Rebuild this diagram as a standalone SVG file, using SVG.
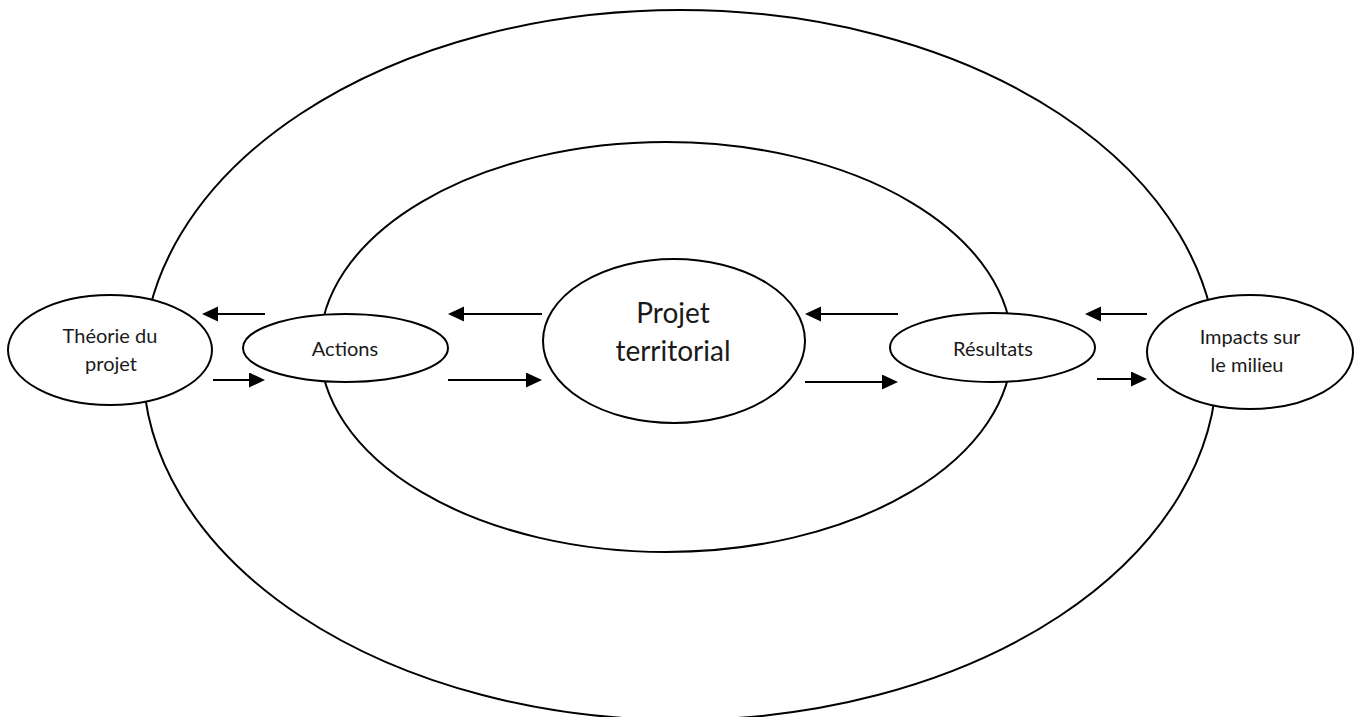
<svg xmlns="http://www.w3.org/2000/svg" width="1362" height="717" viewBox="0 0 1362 717">
<style>
.ring{fill:none;stroke:#000;stroke-width:2}
.node{fill:#fff;stroke:#000;stroke-width:2}
.t{font-family:Lato,"Liberation Sans",sans-serif;font-size:20px;fill:#1a1a1a;text-anchor:middle}
.tb{font-family:Lato,"Liberation Sans",sans-serif;font-size:28px;fill:#1a1a1a;text-anchor:middle}
.c{stroke:#000;stroke-width:2.2;fill:none;marker-end:url(#ah)}
</style>
<defs>
<marker id="ah" markerUnits="userSpaceOnUse" markerWidth="17" markerHeight="16" refX="7" refY="7.5" orient="auto">
<path d="M0,0 L16,7.5 L0,15 z" fill="#000"/>
</marker>
</defs>
<rect width="1362" height="717" fill="#fff"/>
<g id="outer-ring"><ellipse class="ring" cx="680" cy="365" rx="537" ry="355"/></g>
<g id="inner-ring"><ellipse class="ring" cx="666" cy="347" rx="346" ry="205"/></g>
<g id="connectors">
<line class="c" x1="265" y1="314" x2="211" y2="314"/>
<line class="c" x1="213" y1="380" x2="256" y2="380"/>
<line class="c" x1="542" y1="314" x2="457" y2="314"/>
<line class="c" x1="448" y1="380" x2="533" y2="380"/>
<line class="c" x1="898" y1="314" x2="814" y2="314"/>
<line class="c" x1="805" y1="382" x2="889" y2="382"/>
<line class="c" x1="1147" y1="314" x2="1094" y2="314"/>
<line class="c" x1="1097" y1="379" x2="1138" y2="379"/>
</g>
<g id="theorie">
<ellipse class="node" cx="110" cy="350" rx="102" ry="55"/>
<text class="t" x="110" y="343">Théorie du</text>
<text class="t" x="111" y="371">projet</text>
</g>
<g id="actions">
<ellipse class="node" cx="345.5" cy="348" rx="102.5" ry="34"/>
<text class="t" x="345" y="356">Actions</text>
</g>
<g id="projet">
<ellipse class="node" cx="674" cy="341" rx="131" ry="82"/>
<text class="tb" x="673" y="323">Projet</text>
<text class="tb" x="673" y="361">territorial</text>
</g>
<g id="resultats">
<ellipse class="node" cx="992.5" cy="347.5" rx="102.5" ry="34.5"/>
<text class="t" x="993" y="356">Résultats</text>
</g>
<g id="impacts">
<ellipse class="node" cx="1250" cy="352" rx="103" ry="57"/>
<text class="t" x="1250" y="344">Impacts sur</text>
<text class="t" x="1247" y="372">le milieu</text>
</g>
</svg>
